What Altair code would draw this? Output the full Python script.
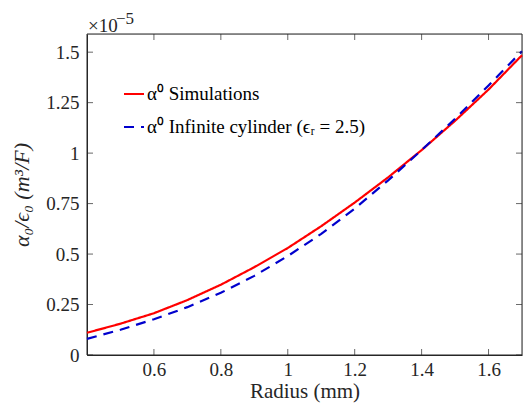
import altair as alt
import pandas as pd

# Data (values in units of 1e-5 m^3/F)
radius = [0.4, 0.5, 0.6, 0.7, 0.8, 0.9, 1.0, 1.1, 1.2, 1.3, 1.4, 1.5, 1.6, 1.7]
sim = [0.110, 0.155, 0.207, 0.272, 0.348, 0.435, 0.530, 0.638, 0.755, 0.880, 1.015, 1.160, 1.315, 1.485]
cyl = [0.080, 0.125, 0.177, 0.237, 0.308, 0.392, 0.490, 0.600, 0.725, 0.865, 1.015, 1.170, 1.335, 1.505]
series_names = ["\u03b1\u2070 Simulations", "\u03b1\u2070 Infinite cylinder (\u03f5\u1d63 = 2.5)"]
x_ticks = [0.6, 0.8, 1.0, 1.2, 1.4, 1.6]
y_ticks = [0, 0.25, 0.5, 0.75, 1.0, 1.25, 1.5]

rows = []
for r, v in zip(radius, sim):
    rows.append({"r": r, "v": v, "s": series_names[0]})
for r, v in zip(radius, cyl):
    rows.append({"r": r, "v": v, "s": series_names[1]})
df = pd.DataFrame(rows)

W, H = 435, 321
FONT = "Liberation Serif"
XD = [0.4, 1.7]
YD = [0, 1.59]

label_expr = "datum.value == 1 ? '1' : datum.value == 0 ? '0' : format(datum.value, '.2~f')"

xs = alt.Scale(domain=XD, nice=False, zero=False)
ys = alt.Scale(domain=YD, nice=False)

leg = dict(title=None, orient="none", legendX=36, legendY=49,
           symbolType="stroke", symbolSize=400, symbolStrokeWidth=2,
           labelFont=FONT, labelFontSize=19, labelFontWeight="normal", labelColor="#000000",
           rowPadding=12, labelOffset=2, labelLimit=400)

lines = alt.Chart(df).mark_line().encode(
    x=alt.X("r:Q", scale=xs, axis=alt.Axis(
        values=x_ticks, ticks=False, grid=False, title="Radius (mm)",
        labelExpr="datum.value == 1 ? '1' : format(datum.value, '.1f')",
        labelFont=FONT, labelFontSize=19, labelFontWeight="normal", labelColor="#262626", labelPadding=5,
        titleFont=FONT, titleFontSize=21, titleFontWeight="normal", titleColor="#262626",
        titlePadding=1, domainColor="#262626", labelFlush=False)),
    y=alt.Y("v:Q", scale=ys, axis=alt.Axis(
        values=y_ticks, ticks=False, grid=False, title="\u03b1\u2080/\u03f5\u2080 (m\u00b3/F)",
        labelExpr=label_expr,
        labelFont=FONT, labelFontSize=19, labelFontWeight="normal", labelColor="#262626", labelPadding=8,
        titleFont=FONT, titleFontSize=22, titleFontWeight="normal", titleFontStyle="italic",
        titleColor="#262626", titlePadding=12, domainColor="#262626", labelFlush=False)),
    color=alt.Color("s:N", scale=alt.Scale(domain=series_names, range=["#FF0000", "#0000CD"]),
                    legend=alt.Legend(**leg)),
    strokeDash=alt.StrokeDash("s:N", scale=alt.Scale(domain=series_names, range=[[1, 0], [10, 7]]),
                              legend=alt.Legend(**leg)),
    strokeWidth=alt.value(2.2),
    order=alt.Order("s:N", sort="descending"),
)

frame = alt.Chart(pd.DataFrame({"k": [0]})).mark_rect(fill=None, stroke="#262626", strokeWidth=1).encode(
    x=alt.value(0), x2=alt.value(W), y=alt.value(0), y2=alt.value(H))

xt = pd.DataFrame({"t": x_ticks})
yt = pd.DataFrame({"t": y_ticks})
tick_color = "#262626"
xb = alt.Chart(xt).mark_tick(color=tick_color, size=6, thickness=1).encode(
    x=alt.X("t:Q", scale=xs), y=alt.value(H - 3))
xtop = alt.Chart(xt).mark_tick(color=tick_color, size=6, thickness=1).encode(
    x=alt.X("t:Q", scale=xs), y=alt.value(3))
yl = alt.Chart(yt).mark_tick(color=tick_color, size=6, thickness=1).encode(
    y=alt.Y("t:Q", scale=ys), x=alt.value(3))
yr = alt.Chart(yt).mark_tick(color=tick_color, size=6, thickness=1).encode(
    y=alt.Y("t:Q", scale=ys), x=alt.value(W - 3))

exp_base = alt.Chart(pd.DataFrame({"t": ["\u00d710"]})).mark_text(
    font=FONT, fontSize=19, fontWeight="normal", align="left", baseline="alphabetic", color="#262626").encode(
    text="t:N", x=alt.value(1), y=alt.value(-2))
exp_sup = alt.Chart(pd.DataFrame({"t": ["\u22125"]})).mark_text(
    font=FONT, fontSize=17, fontWeight="normal", align="left", baseline="alphabetic", color="#262626").encode(
    text="t:N", x=alt.value(29), y=alt.value(-10))

chart = alt.layer(frame, lines, xb, xtop, yl, yr, exp_base, exp_sup).properties(
    width=W, height=H,
    autosize=alt.AutoSizeParams(type="none"),
    padding={"left": 79, "top": 26, "right": 2, "bottom": 48},
)

chart.save("out.html", embed_options={"renderer": "svg", "actions": False})
